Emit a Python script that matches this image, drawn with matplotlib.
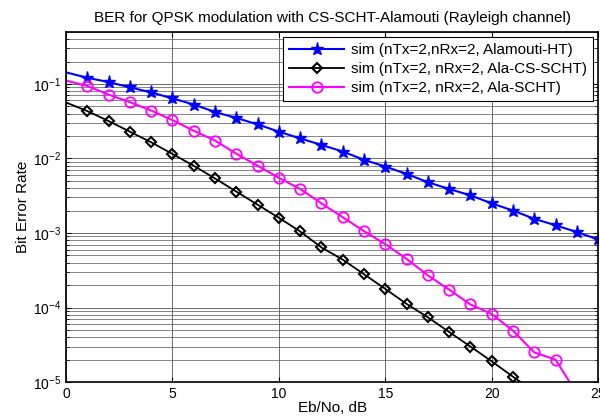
import matplotlib
matplotlib.use("Agg")
import matplotlib.pyplot as plt
from matplotlib.ticker import LogLocator, NullFormatter

# Eb/No values (dB)
ebno = list(range(0, 26))

# BER
ber_ht = [0.143, 0.121, 0.106, 0.090, 0.077, 0.064, 0.053, 0.042, 0.035, 0.0287,
          0.0229, 0.0186, 0.0152, 0.0124, 0.0096, 0.0078, 0.0062, 0.0048, 0.0039,
          0.0032, 0.0025, 0.0020, 0.00155, 0.00127, 0.00103, 0.00082]
ber_cs_scht = [0.0564, 0.0433, 0.0318, 0.0229, 0.0165, 0.0115, 0.0080, 0.0054,
               0.0036, 0.0024, 0.0016, 0.00105, 6.4e-4, 4.4e-4, 2.8e-4, 1.78e-4,
               1.12e-4, 7.4e-5, 4.7e-5, 3.0e-5, 1.9e-5, 1.18e-5, 7.5e-6]
ber_scht = [0.111, 0.094, 0.072, 0.057, 0.044, 0.0327, 0.0236, 0.0174, 0.0116,
            0.0080, 0.0055, 0.0039, 0.0025, 0.00163, 0.00106, 7.1e-4, 4.5e-4,
            2.7e-4, 1.74e-4, 1.1e-4, 8.2e-5, 4.9e-5, 2.5e-5, 2.0e-5, 7.0e-6]

labels = ["sim (nTx=2,nRx=2, Alamouti-HT)",
          "sim (nTx=2, nRx=2, Ala-CS-SCHT)",
          "sim (nTx=2, nRx=2, Ala-SCHT)"]

plt.rcParams["font.family"] = ["Liberation Sans", "DejaVu Sans"]
plt.rcParams["mathtext.fontset"] = "custom"
plt.rcParams["mathtext.rm"] = "Liberation Sans"
plt.rcParams["mathtext.it"] = "Liberation Sans"
plt.rcParams["mathtext.default"] = "regular"

fig = plt.figure(figsize=(6.0, 4.19), dpi=100)
ax = fig.add_axes([0.11, 0.088, 0.887, 0.836])

ax.semilogy(ebno, ber_ht, "b-", marker="*", ms=9.5, lw=1.5,
            markevery=range(1, len(ebno)), label=labels[0])
ax.semilogy(ebno[:len(ber_cs_scht)], ber_cs_scht, "k-", marker="D", ms=5.5,
            mfc="none", mew=1.5, lw=1.3, markevery=range(1, len(ber_cs_scht)),
            label=labels[1])
ax.semilogy(ebno[:len(ber_scht)], ber_scht, "-", color="#ff00ff", marker="o",
            ms=7.5, mfc="none", mew=1.3, lw=1.5,
            markevery=range(1, len(ber_scht)), label=labels[2])

ax.set_xlim(0, 25)
ax.set_ylim(1e-5, 0.5)
ax.set_xticks(range(0, 26, 5))
ax.yaxis.set_major_locator(LogLocator(base=10, numticks=10))
ax.yaxis.set_minor_locator(LogLocator(base=10, subs=range(2, 10), numticks=20))
ax.yaxis.set_minor_formatter(NullFormatter())

ax.grid(True, which="major", color="#555555", lw=0.6)
ax.grid(True, which="minor", axis="y", color="#555555", lw=0.5)
ax.tick_params(which="both", direction="in", labelsize=10, top=True, right=True)
for s in ax.spines.values():
    s.set_linewidth(1.2)

ax.set_title("BER for QPSK modulation with CS-SCHT-Alamouti (Rayleigh channel)",
             fontsize=11, pad=7)
ax.set_xlabel("Eb/No, dB", fontsize=11, labelpad=0)
ax.set_ylabel("Bit Error Rate", fontsize=11, labelpad=2)

leg = ax.legend(loc="upper right", fontsize=11, fancybox=False, framealpha=1,
                edgecolor="black", borderaxespad=0.33, handlelength=3.6,
                handletextpad=0.45, labelspacing=0.33, borderpad=0.4)
leg.get_frame().set_linewidth(0.8)

fig.savefig("out.png", dpi=100)
